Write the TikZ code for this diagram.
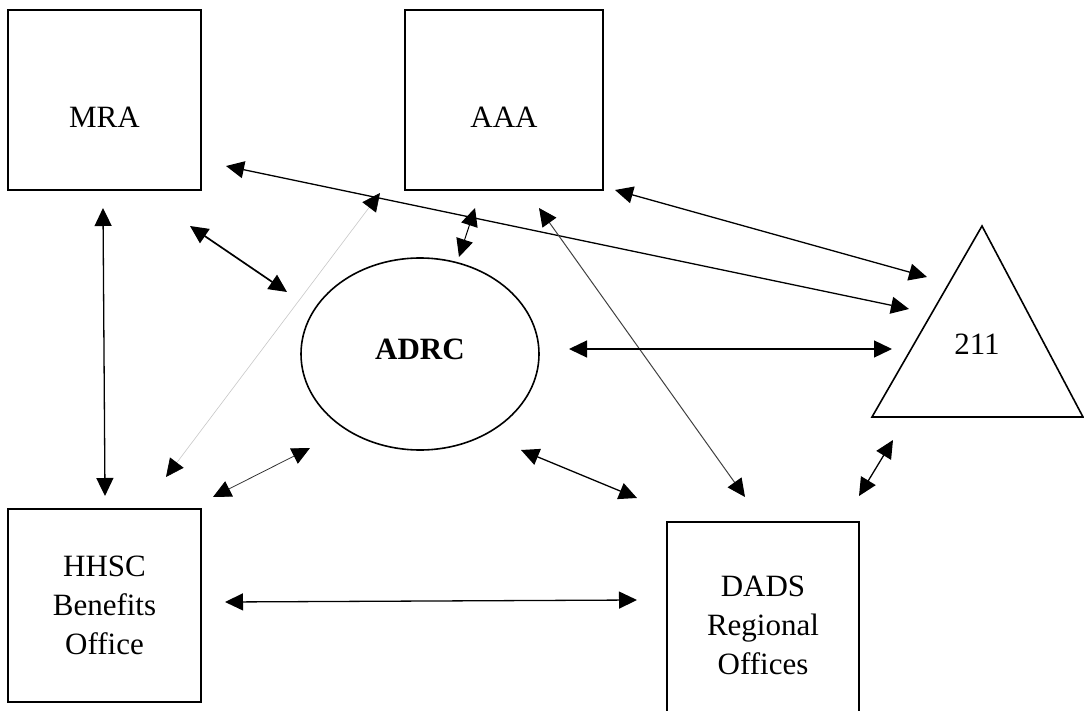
\documentclass[tikz,border=0pt]{standalone}
\usepackage{fontspec}
\setmainfont{Liberation Serif}
\usepackage{tikz}
\usetikzlibrary{arrows.meta,shapes.geometric}
\usepackage{xcolor}

\tikzset{
  agency/.style={draw, line width=1.6pt, inner sep=0pt, align=center, font=\fontsize{31}{39}\selectfont},
  link/.style={<->, line width=1.3pt},
}

\begin{document}
\begin{tikzpicture}[x=1pt,y=-1pt,>={Triangle[length=18pt,width=17pt,color=black]}]
\path[use as bounding box, clip] (0,0) rectangle (1084,711);
%%%AGENCIES
\node[agency, minimum width=193pt, minimum height=180pt, text height=56pt] (mra) at (104.5,100) {MRA};
\node[agency, minimum width=198pt, minimum height=180pt, text height=56pt] (aaa) at (504,100) {AAA};
\node[agency, minimum width=193pt, minimum height=193pt] (hhsc) at (104.5,605.5) {HHSC\\Benefits\\Office};
\node[agency, minimum width=192pt, minimum height=206pt] (dads) at (763,625) {DADS\\Regional\\Offices};
\node[agency, ellipse, minimum width=238pt, minimum height=192pt, text depth=10pt, font=\fontsize{31}{39}\selectfont\bfseries] (adrc) at (420,354) {ADRC};
\node[font=\fontsize{31}{39}\selectfont] (two) at (977,344) {211};
\draw[line width=1.6pt, line join=miter] (872,417) -- (982,226) -- (1083,417) -- cycle;
%%%ARROW ENDS
\coordinate (mra-e) at (226,166);   \coordinate (two-w) at (909,309);
\coordinate (aaa-e) at (615,190);   \coordinate (two-nw) at (927,277);
\coordinate (aaa-sw) at (380,193);  \coordinate (hhsc-ne) at (166,477);
\coordinate (mra-se) at (190,226);  \coordinate (adrc-nw) at (287,292);
\coordinate (aaa-s) at (475,208);   \coordinate (adrc-n) at (459,257);
\coordinate (aaa-se) at (539,208);  \coordinate (dads-n) at (745,497);
\coordinate (adrc-e) at (569,349);  \coordinate (two-sw) at (892,349);
\coordinate (mra-s) at (103,208);   \coordinate (hhsc-n) at (105,496);
\coordinate (hhsc-e) at (213,497);  \coordinate (adrc-sw) at (310,448);
\coordinate (adrc-se) at (521,450); \coordinate (dads-nw) at (637,498);
\coordinate (two-s) at (893,440);   \coordinate (dads-ne) at (859,496);
\coordinate (hhsc-r) at (225,602);  \coordinate (dads-w) at (637,600);
%%%LINKS
\draw[link] (mra-e) -- (two-w);
\draw[link] (aaa-e) -- (two-nw);
\draw[link, line width=0.6pt, draw=black!22] (aaa-sw) -- (hhsc-ne);
\draw[link, line width=1.7pt] (mra-se) -- (adrc-nw);
\draw[link, line width=1pt] (aaa-s) -- (adrc-n);
\draw[link, line width=1pt, draw=black!75] (aaa-se) -- (dads-n);
\draw[link] (adrc-e) -- (two-sw);
\draw[link] (mra-s) -- (hhsc-n);
\draw[link, line width=0.8pt, draw=black!80] (hhsc-e) -- (adrc-sw);
\draw[link] (adrc-se) -- (dads-nw);
\draw[link] (two-s) -- (dads-ne);
\draw[link] (hhsc-r) -- (dads-w);
\end{tikzpicture}
\end{document}
